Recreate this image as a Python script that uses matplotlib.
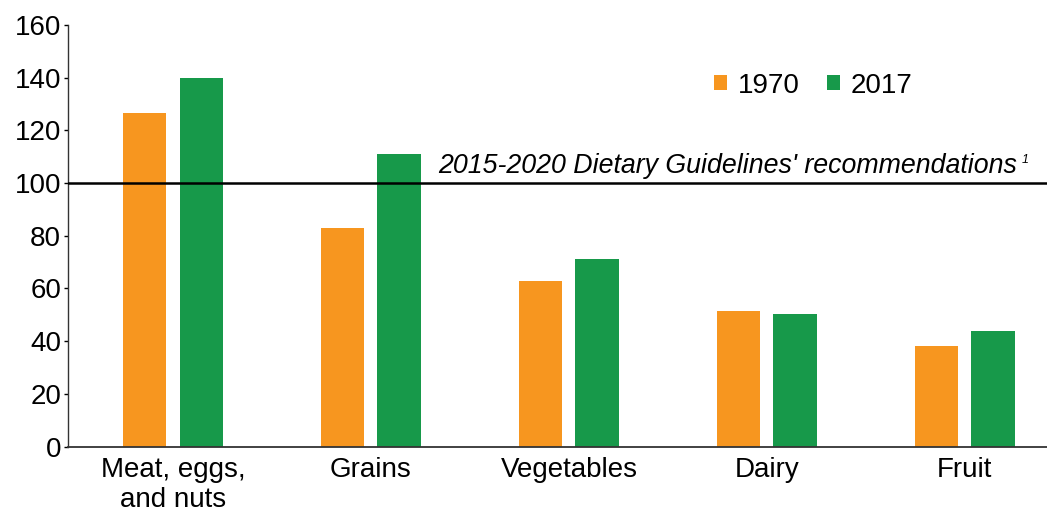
import matplotlib.pyplot as plt
import numpy as np

plt.rcParams['font.family'] = ['Liberation Sans', 'DejaVu Sans']

categories = ['Meat, eggs,\nand nuts', 'Grains', 'Vegetables', 'Dairy', 'Fruit']
values_1970 = [126.5, 83, 62.9, 51.5, 38.3]
values_2017 = [140, 111, 71.3, 50.2, 43.8]
years = ['1970', '2017']
guideline = 100

orange = '#F7961F'
green = '#17994A'

fig = plt.figure(figsize=(10.47, 5.17), dpi=100)
ax = fig.add_axes([0.065, 0.136, 0.935, 0.816])

x = np.arange(len(categories))
width = 0.22
offset = 0.143
ax.bar(x - offset, values_1970, width, color=orange, label=years[0])
ax.bar(x + offset, values_2017, width, color=green, label=years[1])

# guideline line and its note
ax.axhline(guideline, color='black', linewidth=1.8, zorder=3)
ax.text(1.34, guideline + 3.8, "2015-2020 Dietary Guidelines' recommendations",
        fontsize=19.3, style='italic', va='baseline', ha='left')
ax.text(4.288, guideline + 7.6, '1', fontsize=9, style='italic',
        va='baseline', ha='left')

ax.set_xlim(-0.53, 4.415)
ax.set_ylim(0, 160)
ax.set_yticks(range(0, 161, 20))
ax.set_xticks(x)
ax.set_xticklabels(categories, fontsize=20, linespacing=1.2)
ax.tick_params(axis='x', length=0, pad=7.5)
ax.tick_params(axis='y', labelsize=20, length=3, width=1, pad=2)

for side in ['top', 'right']:
    ax.spines[side].set_visible(False)
ax.spines['left'].set_color('#333333')
ax.spines['bottom'].set_color('#333333')
ax.spines['left'].set_linewidth(1.0)
ax.spines['bottom'].set_linewidth(1.3)

ax.legend(loc='center left', bbox_to_anchor=(0.682, 0.834),
          bbox_transform=fig.transFigure, ncol=2, frameon=False,
          fontsize=20, handlelength=0.45, handleheight=0.45,
          handletextpad=0.4, columnspacing=1.0, borderpad=0,
          borderaxespad=0)

fig.savefig('out.png', dpi=100)
